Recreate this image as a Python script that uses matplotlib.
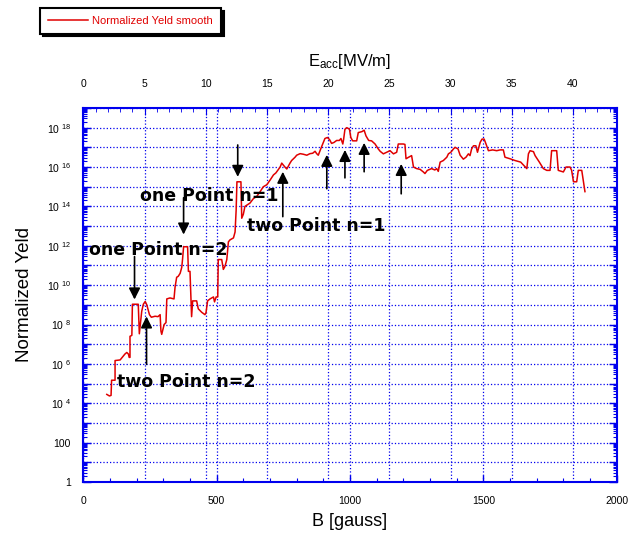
import numpy as np
import matplotlib
matplotlib.use('Agg')
from matplotlib import pyplot as plt
from matplotlib.ticker import LogLocator, MultipleLocator, FuncFormatter, NullFormatter

plt.rcParams['font.family'] = ['Liberation Sans', 'DejaVu Sans']
plt.rcParams['mathtext.default'] = 'regular'

# B [gauss] vs log10(normalized yield)
b_gauss = [88, 98, 104, 106, 119, 119, 138, 150, 156, 163, 169, 172, 175, 175, 182, 184,
           206, 210, 219, 225, 232, 238, 248, 255, 269, 280, 288, 291, 294, 303, 310, 313,
           325, 340, 344, 350, 356, 363, 369, 372, 376, 391, 394, 400, 406, 410, 425, 431,
           444, 456, 460, 466, 475, 488, 492, 498, 504, 506, 519, 525, 531, 538, 544, 550,
           563, 569, 573, 576, 591, 594, 600, 606, 625, 638, 650, 663, 675, 688, 700, 713,
           722, 738, 744, 750, 756, 763, 769, 775, 781, 794, 800, 813, 825, 838, 850, 860,
           869, 875, 881, 888, 894, 906, 915, 923, 931, 940, 950, 960, 966, 973, 976, 981,
           988, 998, 1003, 1010, 1025, 1031, 1045, 1053, 1060, 1070, 1081, 1094, 1106, 1113,
           1125, 1138, 1150, 1163, 1175, 1181, 1200, 1206, 1210, 1220, 1231, 1238, 1250, 1263,
           1275, 1281, 1290, 1306, 1318, 1325, 1331, 1338, 1350, 1363, 1369, 1378, 1388, 1394,
           1405, 1413, 1425, 1435, 1444, 1450, 1456, 1463, 1472, 1478, 1481, 1488, 1495, 1503,
           1510, 1519, 1535, 1550, 1563, 1575, 1581, 1600, 1619, 1640, 1663, 1669, 1675, 1688,
           1694, 1710, 1725, 1738, 1750, 1756, 1775, 1781, 1800, 1810, 1825, 1831, 1838, 1850,
           1856, 1869, 1881]
yield_exp = [4.45, 4.37, 4.4, 5.17, 5.17, 6.17, 6.2, 6.4, 6.5, 6.58, 6.5, 6.33, 6.33, 7.4, 7.45, 9.03,
             9.03, 7.53, 8.67, 9.03, 9.17, 9.0, 8.5, 8.37, 8.42, 8.4, 8.5, 7.67, 7.5, 8.0, 8.1, 9.3,
             9.35, 9.3, 9.9, 10.4, 10.45, 10.6, 10.9, 11.3, 11.95, 11.95, 10.7, 10.7, 8.4, 9.2, 9.2, 8.8,
             8.62, 8.5, 8.6, 9.2, 9.3, 9.4, 9.15, 9.4, 9.4, 11.3, 11.3, 10.8, 10.95, 11.3, 12.2, 12.3,
             12.4, 12.7, 13.8, 15.25, 15.25, 13.4, 13.6, 14.0, 14.17, 14.4, 14.5, 14.75, 15.0, 15.1, 15.33, 15.6,
             15.7, 16.0, 16.2, 16.1, 16.0, 15.9, 16.05, 16.2, 16.33, 16.5, 16.6, 16.68, 16.65, 16.6, 16.68, 16.7,
             16.8, 16.68, 16.6, 16.85, 17.05, 17.45, 17.5, 17.4, 17.2, 17.25, 17.35, 17.35, 17.45, 17.17, 17.4, 17.92,
             18.0, 17.92, 17.5, 17.33, 17.33, 17.75, 17.8, 17.87, 17.58, 17.35, 17.33, 17.17, 16.92, 16.8,
             16.67, 16.75, 16.83, 16.67, 16.75, 17.17, 17.17, 17.15, 16.42, 16.5, 16.58, 16.0, 15.92, 15.88,
             15.75, 15.67, 15.83, 15.92, 15.85, 15.92, 15.78, 16.25, 16.33, 16.5, 16.67, 16.75, 16.92, 17.0,
             16.92, 16.6, 16.4, 16.5, 16.67, 16.58, 16.92, 17.08, 17.08, 16.75, 16.9, 17.25, 17.42, 17.42,
             17.17, 16.83, 16.87, 16.83, 16.87, 16.87, 16.5, 16.42, 16.33, 16.25, 15.92, 16.67, 16.83, 16.78,
             16.58, 16.25, 15.92, 15.83, 15.83, 16.83, 16.83, 15.83, 15.75, 16.0, 16.0, 15.83, 15.25, 15.25,
             15.83, 15.83, 14.75]

# annotations: text, B, exponent of left/centre of text
notes = ['one Point n=2', 'two Point n=2', 'one Point n=1', 'two Point n=1']
note_b = [23, 128, 211, 613]
note_exp = [11.8, 5.07, 14.54, 13.02]

# arrows: B, start exponent, tip exponent
arrow_b = [192, 237, 376, 579, 748, 913, 981, 1053, 1192]
arrow_from = [11.45, 5.98, 14.44, 17.12, 13.48, 14.90, 15.45, 15.76, 14.64]
arrow_to = [9.27, 8.41, 12.57, 15.50, 15.76, 16.62, 16.87, 17.23, 16.16]

gauss_per_mvm = 45.9   # B / Eacc

blue = '#0000ee'

fig = plt.figure(figsize=(6.38, 5.38), dpi=100)
ax = fig.add_axes([0.1306, 0.1041, 0.836, 0.6952])
ax2 = ax.twiny()
ax.set_zorder(ax2.get_zorder() + 1)
ax.patch.set_visible(False)

ax.plot(b_gauss, 10.0 ** np.array(yield_exp), color='#e00000', lw=1.1,
        label='Normalized Yeld smooth')

ax.set_yscale('log')
ax.set_xlim(0, 2000)
ax.set_ylim(1, 1e19)

ax.xaxis.set_major_locator(MultipleLocator(500))
ax.xaxis.set_minor_locator(MultipleLocator(100))
ax.yaxis.set_major_locator(LogLocator(base=10, numticks=40))
ax.yaxis.set_minor_locator(LogLocator(base=10, subs=np.arange(2, 10), numticks=40))
ax.yaxis.set_minor_formatter(NullFormatter())


def ylab(v, pos):
    e = int(round(np.log10(v)))
    if e % 2:
        return ''
    if e == 0:
        return '1'
    if e == 2:
        return '100'
    return r'$10^{\ %d}$' % e


ax.yaxis.set_major_formatter(FuncFormatter(ylab))

ax.tick_params(which='both', direction='in', color=blue, top=False, right=True,
               labelsize=7.5)
ax.tick_params(axis='y', which='major', length=6, width=1, pad=9)
ax.tick_params(axis='y', which='minor', length=3, width=0.8)
ax.tick_params(axis='x', which='major', length=5, width=1, pad=10)
ax.tick_params(axis='x', which='minor', length=3, width=0.8)

ax.grid(True, which='major', color=blue, ls=':', lw=0.9)

for s in ax.spines.values():
    s.set_color(blue)
    s.set_linewidth(1.5)

# top axis: Eacc
ax2.set_xlim(0, 2000 / gauss_per_mvm)
ax2.xaxis.set_major_locator(MultipleLocator(5))
ax2.xaxis.set_minor_locator(MultipleLocator(1))
ax2.tick_params(which='both', direction='in', color=blue, labelsize=7.5)
ax2.tick_params(which='major', length=5, pad=14)
ax2.tick_params(which='minor', length=3)
ax2.grid(True, which='major', axis='x', color=blue, ls=':', lw=0.9)
for s in ax2.spines.values():
    s.set_visible(False)
ax2.set_xlabel(r'E$_{acc}$[MV/m]', fontsize=12, labelpad=9)

ax.set_xlabel('B [gauss]', fontsize=13)
ax.xaxis.set_label_coords(0.5, -0.083)
ax.set_ylabel('Normalized Yeld', fontsize=13.5)
ax.yaxis.set_label_coords(-0.095, 0.5)

for t, b, e in zip(notes, note_b, note_exp):
    ax.text(b, 10.0 ** e, t, fontsize=12.5, fontweight='bold', family='DejaVu Sans',
            ha='left', va='center')

for b, e0, e1 in zip(arrow_b, arrow_from, arrow_to):
    ax.annotate('', xy=(b, 10.0 ** e1), xytext=(b, 10.0 ** e0),
                arrowprops=dict(arrowstyle='-|>', color='black', lw=1.2,
                                mutation_scale=17, shrinkA=0, shrinkB=0))

leg = fig.legend(loc='upper left', bbox_to_anchor=(0.063, 0.985), fontsize=8,
                 labelcolor='#e00000', fancybox=False, shadow={'color': 'black', 'alpha': 1},
                 edgecolor='black', framealpha=1, handlelength=3.6, borderpad=0.7,
                 handletextpad=0.4, borderaxespad=0)
leg.get_frame().set_linewidth(1.5)

fig.savefig('out.png', dpi=100)
